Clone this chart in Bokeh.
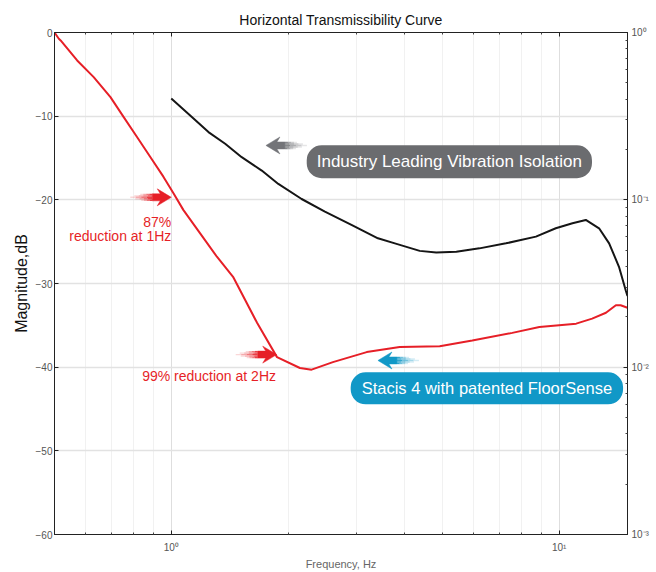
from bokeh.plotting import figure
from bokeh.models import Range1d, LogAxis, LogScale, FixedTicker, Label
from bokeh.embed import file_html
from bokeh.resources import INLINE

# ---------------- data ----------------
title_text = "Horizontal Transmissibility Curve"
x_label = "Frequency, Hz"
y_label = "Magnitude,dB"

freq_major_ticks = [1, 10]
freq_tick_labels = ["10⁰", "10¹"]
freq_minor_ticks = [0.6, 0.7, 0.8, 0.9, 2, 3, 4, 5, 6, 7, 8, 9]
db_ticks = [-60, -50, -40, -30, -20, -10, 0]
mag_major_ticks = [0.001, 0.01, 0.1, 1]
mag_tick_labels = ["10⁻³", "10⁻²", "10⁻¹", "10⁰"]
mag_minor_ticks = [0.002, 0.003, 0.004, 0.005, 0.006, 0.007, 0.008, 0.009,
                   0.02, 0.03, 0.04, 0.05, 0.06, 0.07, 0.08, 0.09,
                   0.2, 0.3, 0.4, 0.5, 0.6, 0.7, 0.8, 0.9]

# Stacis 4 with FloorSense (red)
red_freq = [0.5, 0.513, 0.5185, 0.572, 0.631, 0.697, 0.754, 0.816, 0.883, 0.955,
            1.014, 1.075, 1.187, 1.311, 1.443, 1.664, 1.873, 2.146, 2.3, 2.61,
            3.19, 3.88, 4.92, 5.97, 7.57, 8.89, 11.06, 12.16, 13.2, 14.0,
            14.4, 15.0]
red_db = [0.0, -0.75, -0.95, -3.34, -5.33, -7.72, -10.11, -12.49, -14.88, -17.26,
          -19.24, -21.23, -24.01, -26.8, -29.2, -34.7, -38.8, -40.1, -40.3, -39.4,
          -38.2, -37.6, -37.5, -36.8, -35.9, -35.2, -34.8, -34.2, -33.5, -32.6,
          -32.6, -32.9]

# Industry leading vibration isolation (black)
black_freq = [1.0, 1.13, 1.247, 1.377, 1.519, 1.711, 1.888, 2.168, 2.489, 2.914,
              3.41, 3.77, 4.37, 4.82, 5.43, 6.23, 7.29, 8.71, 9.80, 10.82,
              11.71, 12.67, 13.45, 14.26, 14.84, 15.0]
black_db = [-7.9, -10.1, -11.9, -13.3, -14.9, -16.5, -18.1, -19.9, -21.4, -23.0,
            -24.6, -25.2, -26.1, -26.3, -26.2, -25.8, -25.2, -24.4, -23.4, -22.8,
            -22.4, -23.4, -25.2, -28.0, -30.8, -31.5]

label_87_a = "87%"
label_87_b = "reduction at 1Hz"
label_99 = "99% reduction at 2Hz"
label_black = "Industry Leading Vibration Isolation"
label_red = "Stacis 4 with patented FloorSense"

RED = "#e61f27"
GRAY_BOX = "#6b6c6f"
GRAY_ARROW = "#737478"
BLUE = "#1198c7"
FONT = "Liberation Sans"

# ---------------- figure ----------------
p = figure(width=656, height=572, x_axis_type="log",
           x_range=Range1d(0.5, 15), y_range=Range1d(-60, 0),
           output_backend="svg", toolbar_location=None,
           min_border_left=54, min_border_right=29,
           min_border_top=32, min_border_bottom=37,
           title=title_text)

p.title.text_font = FONT
p.title.text_font_size = "14px"
p.title.text_font_style = "normal"
p.title.text_color = "#111111"
p.title.align = "center"
p.title.standoff = 9

p.outline_line_color = "#222222"
p.background_fill_color = "white"
p.border_fill_color = "white"

x_ticker = FixedTicker(ticks=freq_major_ticks, minor_ticks=freq_minor_ticks)
y_ticker = FixedTicker(ticks=db_ticks)

def style_axis(ax):
    ax.axis_line_color = "#222222"
    ax.major_tick_line_color = "#222222"
    ax.minor_tick_line_color = "#444444"
    ax.major_tick_in = 4
    ax.major_tick_out = 0
    ax.minor_tick_in = 2
    ax.minor_tick_out = 0
    ax.major_label_text_font = FONT
    ax.major_label_text_font_size = "10px"
    ax.major_label_text_color = "#555555"

xa = p.xaxis[0]
xa.ticker = x_ticker
style_axis(xa)
xa.major_label_overrides = dict(zip(freq_major_ticks, freq_tick_labels))
xa.major_label_standoff = 7
xa.axis_label = x_label
xa.axis_label_text_font = FONT
xa.axis_label_text_font_size = "11px"
xa.axis_label_text_font_style = "normal"
xa.axis_label_text_color = "#666666"
xa.axis_label_standoff = 2

ya = p.yaxis[0]
ya.ticker = y_ticker
style_axis(ya)
ya.minor_tick_line_color = None
ya.major_label_standoff = 2
ya.axis_label = y_label
ya.axis_label_text_font = FONT
ya.axis_label_text_font_size = "16px"
ya.axis_label_text_font_style = "normal"
ya.axis_label_text_color = "#111111"
ya.axis_label_standoff = 3

# top axis (ticks only)
top = LogAxis(ticker=FixedTicker(ticks=freq_major_ticks, minor_ticks=freq_minor_ticks))
style_axis(top)
top.major_label_text_font_size = "1px"
top.major_label_text_alpha = 0
top.major_label_standoff = 0
p.add_layout(top, "above")

# right magnitude axis (log)
p.extra_y_ranges = {"mag": Range1d(0.001, 1)}
p.extra_y_scales = {"mag": LogScale()}
right = LogAxis(y_range_name="mag",
                ticker=FixedTicker(ticks=mag_major_ticks, minor_ticks=mag_minor_ticks))
style_axis(right)
right.major_label_overrides = dict(zip(mag_major_ticks, mag_tick_labels))
right.major_label_standoff = 4
right.major_label_text_font_size = "10px"
p.add_layout(right, "right")

# grids
p.xgrid.ticker = x_ticker
p.ygrid.ticker = y_ticker
p.xgrid.grid_line_color = "#dedede"
p.xgrid.minor_grid_line_color = "#f1f1f1"
p.ygrid.grid_line_color = "#e2e2e2"
p.ygrid.grid_line_width = 1.3

# ---------------- curves ----------------
p.line(black_freq, black_db, line_color="#151515", line_width=2)
p.line(red_freq, red_db, line_color=RED, line_width=2)

# ---------------- annotations ----------------
PX_PER_DEC = 573 / 1.4771
PX_PER_DB = 503 / 60.0

def off(f0, d0, dx, dy):
    return f0 * 10 ** (dx / PX_PER_DEC), d0 - dy / PX_PER_DB

def speed_arrow(tip_f, tip_db, direction, color):
    s = direction
    head = [(0, 0), (-14, -8.5), (-11, -3.5), (-19, -3.5), (-19, 3.5), (-11, 3.5), (-14, 8.5)]
    pts = [off(tip_f, tip_db, s * dx, dy) for dx, dy in head]
    p.patch([q[0] for q in pts], [q[1] for q in pts],
            fill_color=color, line_color=color, line_width=0.5)
    trails = [(-3.0, 12), (-1.5, 18), (0.0, 22), (1.5, 17), (3.0, 11)]
    alphas = [0.85, 0.6, 0.38, 0.18]
    x0, y0, x1, y1, al = [], [], [], [], []
    for dy, length in trails:
        for i, a in enumerate(alphas):
            a0 = -19 - length * i / 4.0
            a1 = -19 - length * (i + 1) / 4.0
            fa, da = off(tip_f, tip_db, s * a0, dy)
            fb, db = off(tip_f, tip_db, s * a1, dy)
            x0.append(fa); y0.append(da); x1.append(fb); y1.append(db); al.append(a)
    p.segment(x0=x0, y0=y0, x1=x1, y1=y1, line_color=color,
              line_alpha=al, line_width=1.4)

speed_arrow(1.0, -19.7, 1, RED)
speed_arrow(1.87, -38.5, 1, RED)
speed_arrow(1.754, -13.5, -1, GRAY_ARROW)
speed_arrow(3.41, -39.2, -1, BLUE)

for txt, fx, dbv in [(label_87_a, 1.0, -22.6),
                     (label_87_b, 1.0, -24.3),
                     (label_99, 1.862, -41.05)]:
    p.add_layout(Label(x=fx, y=dbv, text=txt, text_align="right",
                       text_baseline="middle", text_color=RED,
                       text_font=FONT, text_font_size="14px"))

p.add_layout(Label(x=5.21, y=-15.45, text=label_black, text_align="center",
                   text_baseline="middle", text_color="white",
                   text_font=FONT, text_font_size="17px",
                   background_fill_color=GRAY_BOX,
                   padding=dict(left=10, right=10, top=7, bottom=7),
                   border_radius=15))
p.add_layout(Label(x=6.51, y=-42.53, text=label_red, text_align="center",
                   text_baseline="middle", text_color="white",
                   text_font=FONT, text_font_size="16.5px",
                   background_fill_color=BLUE,
                   padding=dict(left=11, right=11, top=7, bottom=7),
                   border_radius=15))

open("out.html", "w").write(file_html(p, INLINE))
